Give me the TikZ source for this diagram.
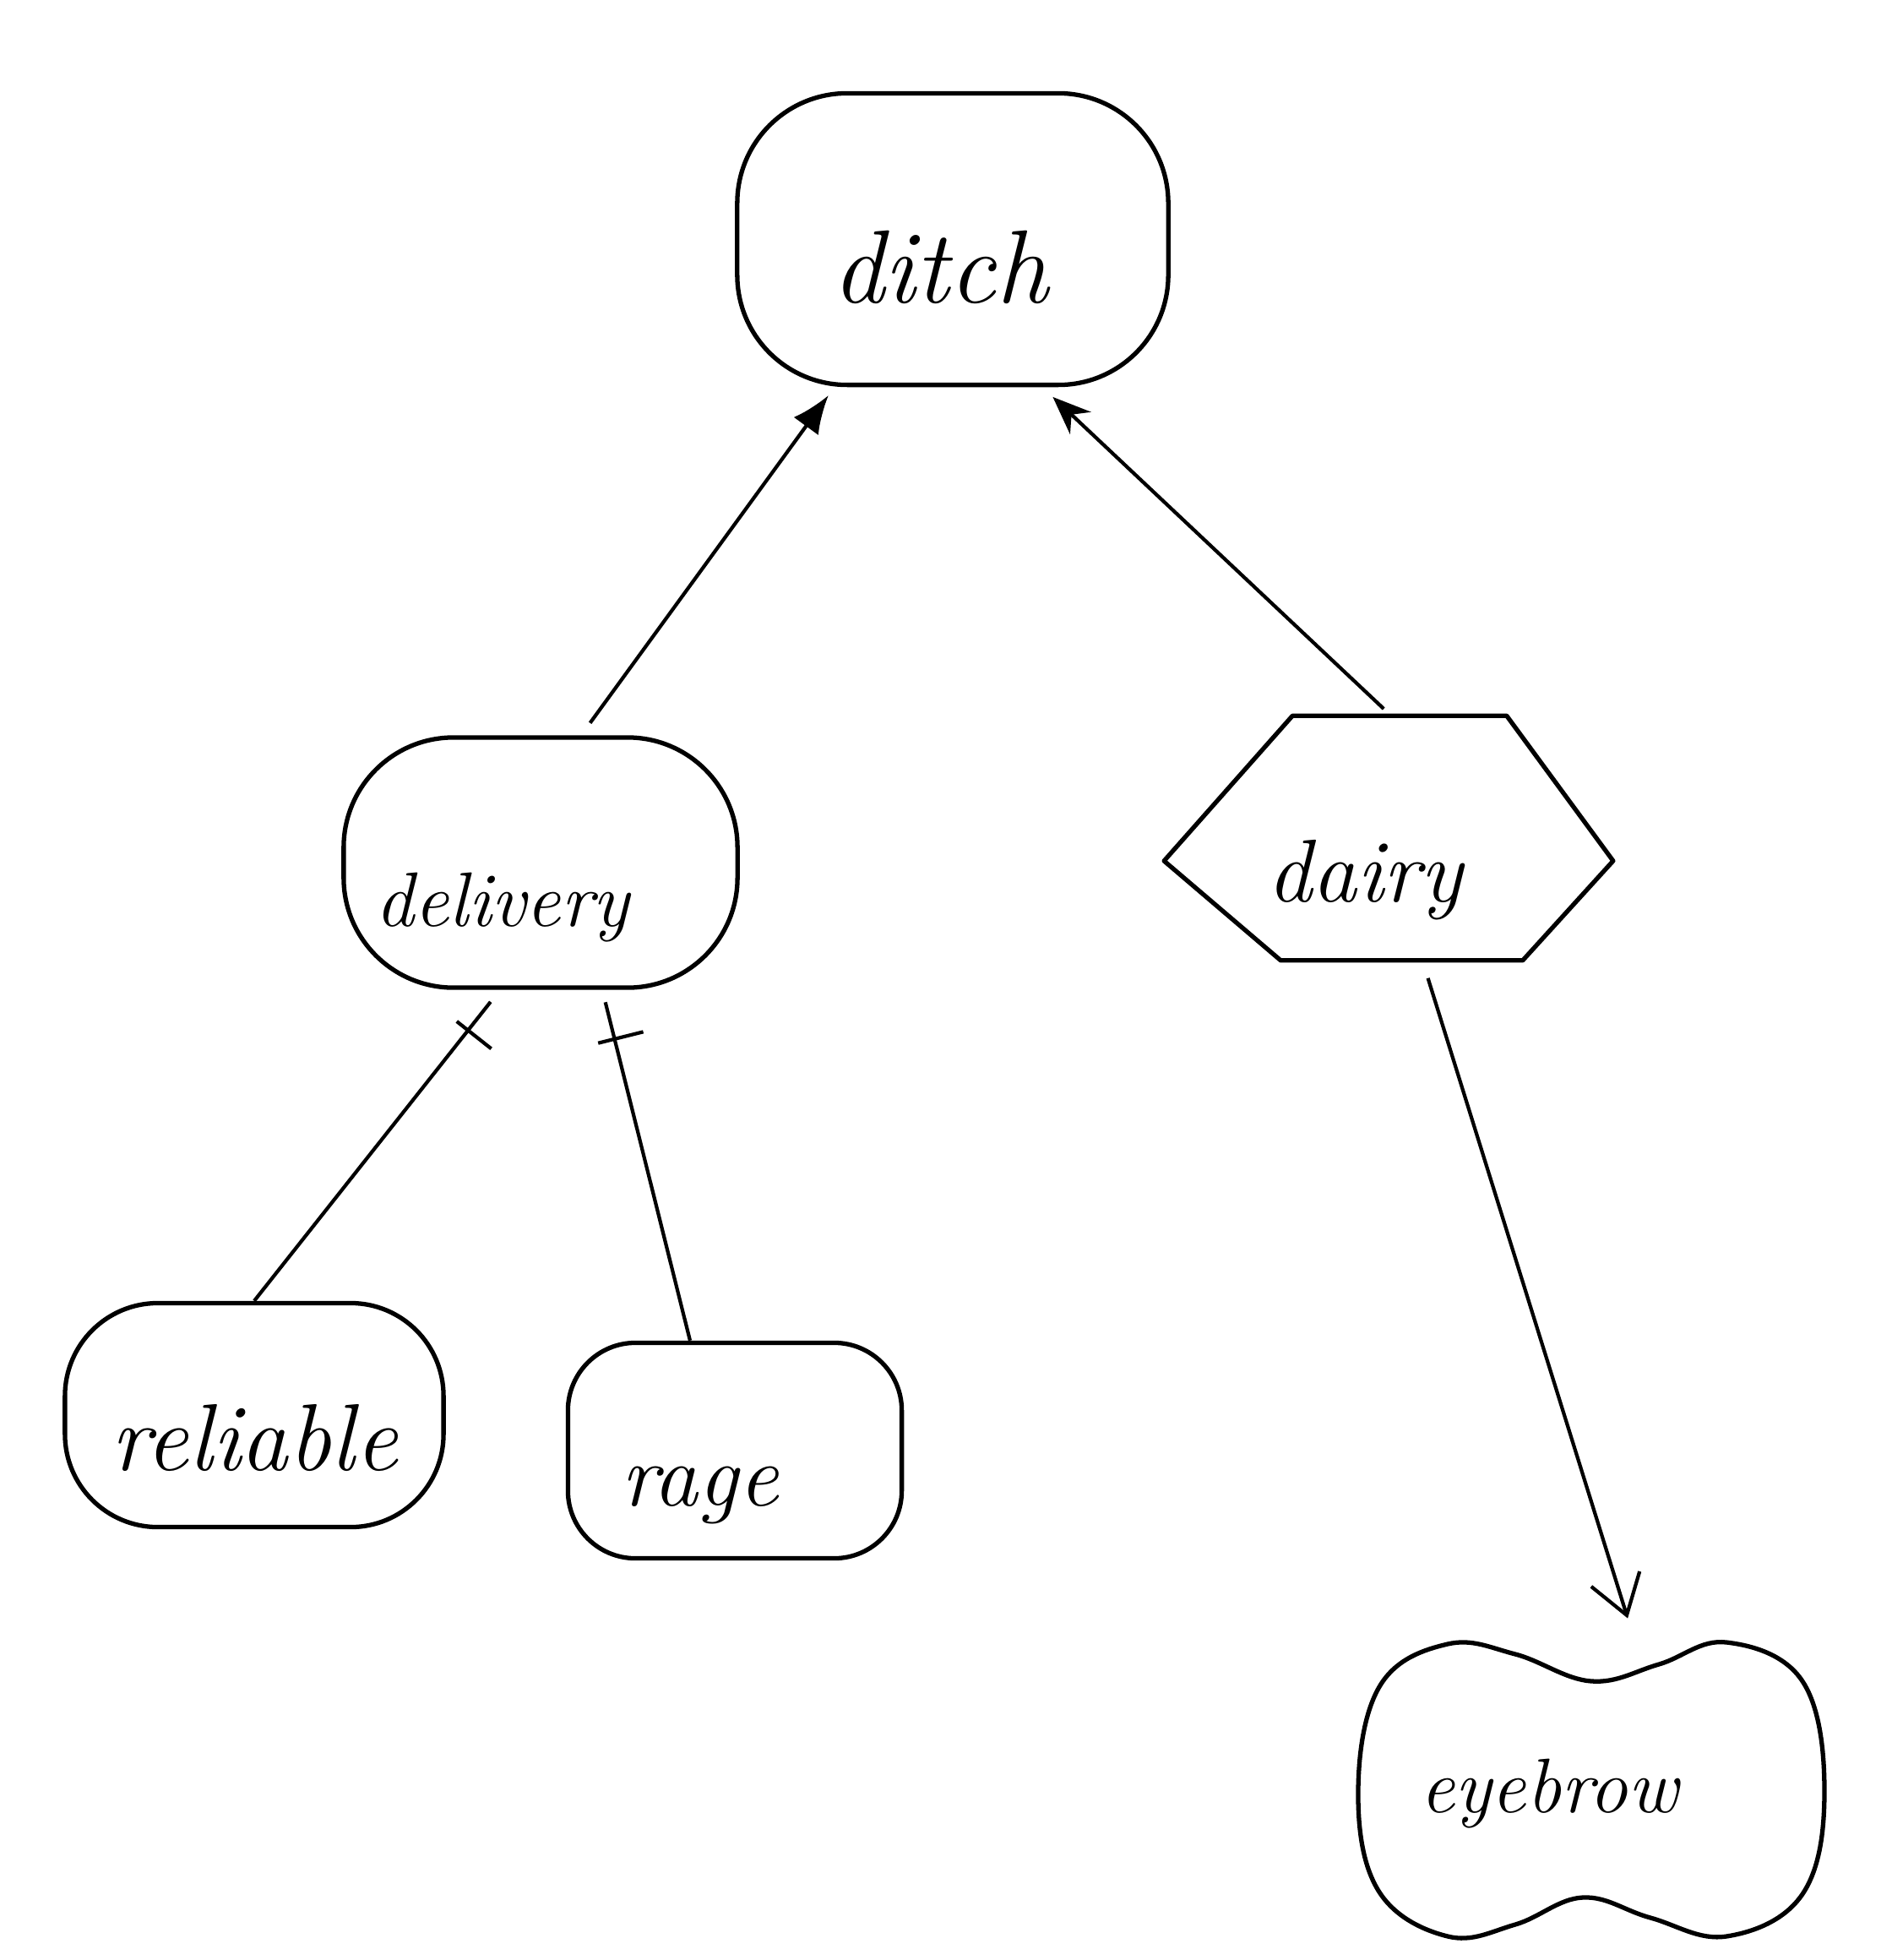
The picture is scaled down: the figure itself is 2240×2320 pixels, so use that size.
\documentclass[tikz,border=0pt]{standalone}
\usepackage{fontspec}
\usetikzlibrary{arrows.meta,decorations.markings}

\tikzset{
  word/.style={font=\fontsize{30}{36}\selectfont\itshape, inner sep=0pt,
    text height=1.5cm, text depth=0cm},
  blob/.style={word, draw, line width=1.5pt},
  outline/.style={line width=1.5pt, line join=round},
  link/.style={line width=1.2pt},
  ticked/.style={postaction={decorate}, decoration={markings,
    mark=at position #1 with {\draw[line width=1.2pt] (0,-0.35cm) -- (0,0.35cm);}}}
}

\begin{document}
\begin{tikzpicture}[x=0.01cm, y=-0.01cm]
  \useasboundingbox (0,0) rectangle (2240,2320);

  % nodes
  \node[blob, minimum width=5.1cm, minimum height=3.45cm, rounded corners=1.3cm,
    font=\fontsize{35}{40}\selectfont\itshape]
    (ditch) at (1128,283) {ditch\hspace*{0.3cm}};
  \node[blob, minimum width=4.66cm, minimum height=2.96cm, rounded corners=1.3cm,
    font=\fontsize{26}{32}\selectfont\itshape]
    (delivery) at (640,1021) {delivery\hspace*{0.9cm}};
  \node[word, minimum width=5.3cm, minimum height=2.88cm]
    (dairy) at (1644,992) {dairy\hspace*{0.56cm}};
  \node[blob, minimum width=4.48cm, minimum height=2.65cm, rounded corners=1.1cm,
    font=\fontsize{32}{38}\selectfont\itshape, text height=1.3cm]
    (reliable) at (301,1675) {reliable};
  \node[blob, minimum width=3.95cm, minimum height=2.55cm, rounded corners=0.8cm,
    text height=1.3cm]
    (rage) at (870,1717) {rage\hspace*{0.83cm}};
  \node[word, minimum width=5.52cm, minimum height=3.5cm, text height=0.5cm,
    font=\fontsize{26}{32}\selectfont\itshape]
    (eyebrow) at (1884,2120) {eyebrow\hspace*{1.0cm}};

  % hexagon around dairy
  \draw[outline]
    ([yshift=-0.27cm]dairy.west) -- ([xshift=1.52cm]dairy.north west)
    -- ([xshift=-1.26cm]dairy.north east) -- ([yshift=-0.27cm]dairy.east)
    -- ([xshift=-1.07cm]dairy.south east) -- ([xshift=1.38cm]dairy.south west)
    -- cycle;

  % two-lobed outline around eyebrow
  \begin{scope}[shift={(eyebrow.center)}]
    \draw[outline] plot[smooth cycle, tension=0.65] coordinates {
      (-276,0) (-250,-125) (-170,-174) (-90,-162) (0,-130) (80,-150)
      (160,-176) (250,-130) (276,0) (250,122) (160,172) (70,150)
      (-10,126) (-90,158) (-170,172) (-252,118)};
  \end{scope}

  % connectors
  \draw[link, -{Latex[length=0.45cm, width=0.36cm]}, shorten <=0.18cm, shorten >=0.12cm]
    ([xshift=0.48cm]delivery.north) -- ([xshift=-1.40cm]ditch.south);
  \draw[link, -{Stealth[length=0.45cm, width=0.36cm]}, shorten <=0.12cm, shorten >=0.17cm]
    ([xshift=0.03cm]dairy.north) -- ([xshift=1.06cm]ditch.south);
  \draw[link, ticked=0.13, shorten <=0.18cm]
    ([xshift=-0.48cm]delivery.south) -- (reliable.north);
  \draw[link, ticked=0.14, shorten <=0.15cm]
    ([xshift=0.73cm]delivery.south) -- ([xshift=-0.53cm]rage.north);
  \draw[link, -{Straight Barb[length=0.45cm, width=0.6cm]}, shorten <=0.22cm, shorten >=0.3cm]
    ([xshift=0.4cm]dairy.south) -- ([xshift=0.52cm]eyebrow.north);
\end{tikzpicture}
\end{document}
